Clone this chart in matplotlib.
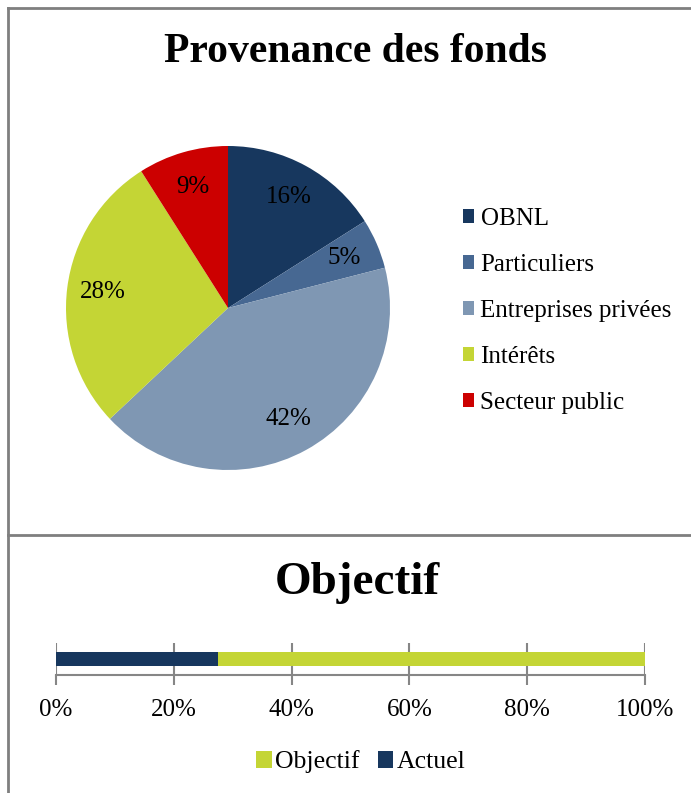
import matplotlib.pyplot as plt
from matplotlib.lines import Line2D
from matplotlib.patches import Patch

plt.rcParams['font.family'] = ['Liberation Serif', 'DejaVu Serif']

# pie data
sources = ['OBNL', 'Particuliers', 'Entreprises privées', 'Intérêts', 'Secteur public']
shares = [16, 5, 42, 28, 9]
pie_colors = ['#17375e', '#476892', '#7f97b3', '#c4d535', '#cc0000']

# bar data
goal_label = 'Objectif'
goal_value = 100
actual_label = 'Actuel'
actual_value = 27.5
bar_colors = {'Objectif': '#c4d535', 'Actuel': '#17375e'}
xticks = [0, 20, 40, 60, 80, 100]

W, H = 691, 793
fig = plt.figure(figsize=(W / 100, H / 100), dpi=100)

def px(x0, y0, w, h):
    # pixel box (top-left origin) -> figure fraction
    return [x0 / W, 1 - (y0 + h) / H, w / W, h / H]

# panel borders
gray = '#7f7f7f'
for (x1, y1, x2, y2) in [(8, 8, 691, 8), (8, 8, 8, 793), (8, 535, 691, 535)]:
    fig.add_artist(Line2D([x1 / W, x2 / W], [1 - y1 / H, 1 - y2 / H],
                          color=gray, lw=2, transform=fig.transFigure))

fig.text(355 / W, 1 - 52 / H, 'Provenance des fonds', ha='center', va='center',
         fontsize=30, fontweight='bold')

ax = fig.add_axes(px(66, 146, 324, 324))
wedges, texts, autotexts = ax.pie(shares, colors=pie_colors, startangle=90,
                                  counterclock=False, autopct='%d%%',
                                  pctdistance=0.78, radius=1,
                                  textprops={'fontsize': 18, 'color': 'black'})
ax.set_xlim(-1, 1)
ax.set_ylim(-1, 1)
ax.set_aspect('equal')

handles = [Patch(facecolor=c, edgecolor='none') for c in pie_colors]
fig.legend(handles, sources, loc='upper left', bbox_to_anchor=(453 / W, 1 - 198 / H),
           frameon=False, fontsize=18, handlelength=0.45, handleheight=0.45,
           handletextpad=0.25, labelspacing=0.96, borderaxespad=0)

fig.text(357 / W, 1 - 583 / H, 'Objectif', ha='center', va='center',
         fontsize=34, fontweight='bold')

bx = fig.add_axes(px(56, 643, 589, 32))
bx.barh([0], [goal_value], height=0.42, color=bar_colors[goal_label], label=goal_label)
bx.barh([0], [actual_value], height=0.42, color=bar_colors[actual_label], label=actual_label)
bx.set_xlim(0, 100)
bx.set_ylim(-0.5, 0.5)
bx.set_xticks(xticks)
bx.set_xticklabels([f'{t}%' for t in xticks], fontsize=18)
bx.set_yticks([])
bx.grid(axis='x', color='#868686', lw=1.5)
bx.set_axisbelow(True)
for s in ['top', 'left', 'right']:
    bx.spines[s].set_visible(False)
bx.spines['bottom'].set_color('#868686')
bx.spines['bottom'].set_linewidth(1.5)
bx.tick_params(axis='x', length=7, width=1.5, color='#868686', pad=10)

fig.legend(loc='center', bbox_to_anchor=(361 / W, 1 - 762 / H), ncol=2,
           frameon=False, fontsize=18.5, handlelength=0.6, handleheight=0.6,
           handletextpad=0.15, columnspacing=0.7)

fig.savefig('out.png', dpi=100)
